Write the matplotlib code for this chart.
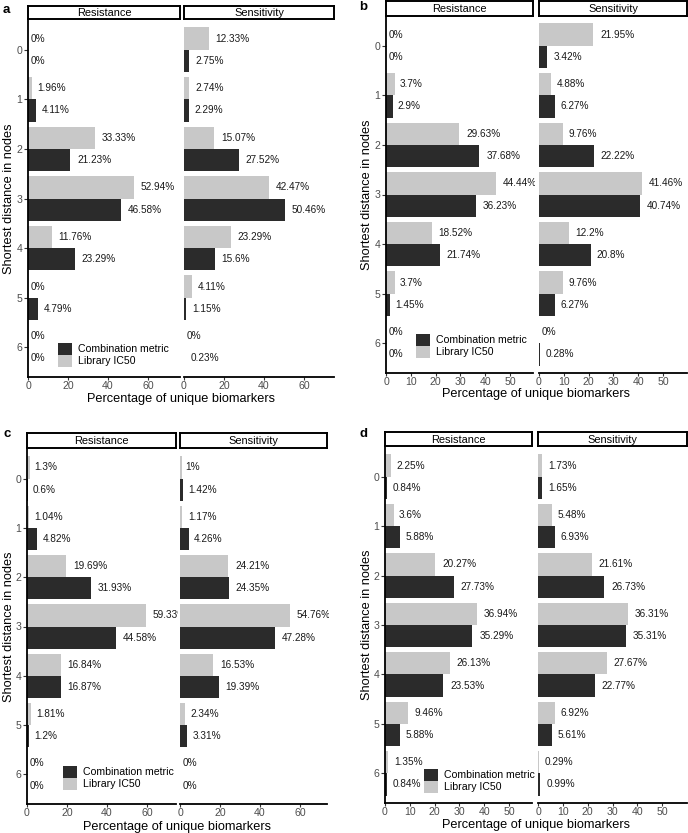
import matplotlib
matplotlib.use("Agg")
import matplotlib.pyplot as plt
from matplotlib.patches import Patch
from matplotlib.transforms import Bbox
import numpy as np

plt.rcParams['font.family'] = ['Liberation Sans', 'DejaVu Sans']

W, H = 688, 833
distances = [0, 1, 2, 3, 4, 5, 6]
facets = ["Resistance", "Sensitivity"]
series_names = ["Combination metric", "Library IC50"]

# panel a
a_res_lib = [0, 1.96, 33.33, 52.94, 11.76, 0, 0]
a_res_comb = [0, 4.11, 21.23, 46.58, 23.29, 4.79, 0]
a_sen_lib = [12.33, 2.74, 15.07, 42.47, 23.29, 4.11, 0]
a_sen_comb = [2.75, 2.29, 27.52, 50.46, 15.6, 1.15, 0.23]
# panel b
b_res_lib = [0, 3.7, 29.63, 44.44, 18.52, 3.7, 0]
b_res_comb = [0, 2.9, 37.68, 36.23, 21.74, 1.45, 0]
b_sen_lib = [21.95, 4.88, 9.76, 41.46, 12.2, 9.76, 0]
b_sen_comb = [3.42, 6.27, 22.22, 40.74, 20.8, 6.27, 0.28]
# panel c
c_res_lib = [1.3, 1.04, 19.69, 59.33, 16.84, 1.81, 0]
c_res_comb = [0.6, 4.82, 31.93, 44.58, 16.87, 1.2, 0]
c_sen_lib = [1, 1.17, 24.21, 54.76, 16.53, 2.34, 0]
c_sen_comb = [1.42, 4.26, 24.35, 47.28, 19.39, 3.31, 0]
# panel d
d_res_lib = [2.25, 3.6, 20.27, 36.94, 26.13, 9.46, 1.35]
d_res_comb = [0.84, 5.88, 27.73, 35.29, 23.53, 5.88, 0.84]
d_sen_lib = [1.73, 5.48, 21.61, 36.31, 27.67, 6.92, 0.29]
d_sen_comb = [1.65, 6.93, 26.73, 35.31, 22.77, 5.61, 0.99]

xticks_ac = [0, 20, 40, 60]
xticks_bd = [0, 10, 20, 30, 40, 50]

DARK = "#2b2b2b"
LIGHT = "#c8c8c8"

fig = plt.figure(figsize=(W / 100, H / 100), dpi=100)


def rect(x0, y0, x1, y1):
    return [x0 / W, 1 - y1 / H, (x1 - x0) / W, (y1 - y0) / H]


def label_offset(txt, fs):
    w = 0.0
    for ch in txt:
        if ch.isdigit():
            w += 0.556
        elif ch == '.':
            w += 0.278
        elif ch == '%':
            w += 0.889
    return 0.2 * w * fs


def draw_facet(box, xlim, xticks, lib, comb, first):
    x0, y0, x1, y1 = box
    ax = fig.add_axes(rect(*box))
    clip = Bbox.from_extents(x0, H - y1, x1 + 1.5, H - y0)
    y = np.array(distances, dtype=float)
    hh = 0.45
    ax.barh(y - hh / 2, lib, height=hh, color=LIGHT, edgecolor="none")
    ax.barh(y + hh / 2, comb, height=hh, color=DARK, edgecolor="none")
    fs = 7.2
    for yy, v in list(zip(y - hh / 2, lib)) + list(zip(y + hh / 2, comb)):
        t = f"{v:g}%"
        ann = ax.annotate(t, (v, yy), xytext=(label_offset(t, fs), 0), textcoords="offset points",
                          ha="left", va="center", fontsize=fs, color="#1a1a1a",
                          annotation_clip=False)
        ann.set_clip_on(True)
        ann.set_clip_box(clip)
    ax.set_xlim(*xlim)
    ax.set_ylim(6.6, -0.6)
    ax.set_xticks(xticks)
    ax.set_yticks(distances)
    for s in ["top", "right"]:
        ax.spines[s].set_visible(False)
    ax.spines["bottom"].set_linewidth(1.3)
    ax.spines["left"].set_linewidth(1.3)
    ax.tick_params(axis="x", labelsize=7.6, labelcolor="#4d4d4d", color="#333333",
                   length=2.5, width=0.8, pad=0.6)
    ax.tick_params(axis="y", labelsize=7.6, labelcolor="#4d4d4d", color="#333333",
                   length=2.8, width=0.8, pad=1.2)
    if not first:
        ax.spines["left"].set_visible(False)
        ax.tick_params(axis="y", left=False, labelleft=False)
    ax.patch.set_alpha(0)
    return ax


def strip(x0, y0, x1, y1, text):
    sax = fig.add_axes(rect(x0, y0, x1, y1))
    sax.set_xticks([])
    sax.set_yticks([])
    for s in sax.spines.values():
        s.set_linewidth(1.4)
        s.set_color("black")
    sax.text(0.5, 0.45, text, ha="center", va="center", fontsize=7.9, transform=sax.transAxes)


panels = [
    dict(letter="a", lx=3, ly=10, top=20, bot=377, res=(28, 180), sen=(184, 334), st=(6, 19),
         xlim_r=(0, 76), xlim_s=(0, 75), ticks=xticks_ac,
         data=(a_res_lib, a_res_comb, a_sen_lib, a_sen_comb), ytx=9, xly=402, leg=(58, 343)),
    dict(letter="b", lx=359, ly=7, top=16, bot=373, res=(386, 533), sen=(539, 687), st=(1, 16),
         xlim_r=(0, 59.3), xlim_s=(0, 59.7), ticks=xticks_bd,
         data=(b_res_lib, b_res_comb, b_sen_lib, b_sen_comb), ytx=367, xly=397, leg=(416, 334)),
    dict(letter="c", lx=3, ly=434, top=449, bot=804, res=(27, 176), sen=(180, 327), st=(433, 448),
         xlim_r=(0, 74.5), xlim_s=(0, 73.5), ticks=xticks_ac,
         data=(c_res_lib, c_res_comb, c_sen_lib, c_sen_comb), ytx=9, xly=830, leg=(63, 766)),
    dict(letter="d", lx=359, ly=434, top=447, bot=803, res=(385, 532), sen=(538, 687), st=(432, 446),
         xlim_r=(0, 59.3), xlim_s=(0, 60), ticks=xticks_bd,
         data=(d_res_lib, d_res_comb, d_sen_lib, d_sen_comb), ytx=367, xly=828, leg=(424, 769)),
]

for p in panels:
    rl, rc, sl, sc = p["data"]
    axr = draw_facet((p["res"][0], p["top"], p["res"][1], p["bot"]), p["xlim_r"], p["ticks"], rl, rc, True)
    axs = draw_facet((p["sen"][0], p["top"], p["sen"][1], p["bot"]), p["xlim_s"], p["ticks"], sl, sc, False)
    strip(p["res"][0], p["st"][0], p["res"][1], p["st"][1], facets[0])
    strip(p["sen"][0], p["st"][0], p["sen"][1], p["st"][1], facets[1])
    fig.text(p["lx"] / W, 1 - p["ly"] / H, p["letter"], fontsize=9.5, fontweight="bold",
             ha="left", va="center")
    fig.text(p["ytx"] / W, 1 - (p["top"] + p["bot"]) / 2 / H, "Shortest distance in nodes",
             rotation=90, ha="center", va="center", fontsize=9.2)
    fig.text((p["res"][0] + p["sen"][1]) / 2 / W, 1 - p["xly"] / H, "Percentage of unique biomarkers",
             ha="center", va="baseline", fontsize=9.2)
    handles = [Patch(facecolor=DARK, edgecolor="none", label=series_names[0]),
               Patch(facecolor=LIGHT, edgecolor="none", label=series_names[1])]
    axr.legend(handles=handles, loc="upper left",
               bbox_to_anchor=(p["leg"][0] / W, 1 - p["leg"][1] / H), bbox_transform=fig.transFigure,
               frameon=False, fontsize=7.6, handlelength=1.35, handleheight=1.35, labelspacing=0.0,
               handletextpad=0.55, borderpad=0, borderaxespad=0)

fig.savefig("out.png", dpi=100)
